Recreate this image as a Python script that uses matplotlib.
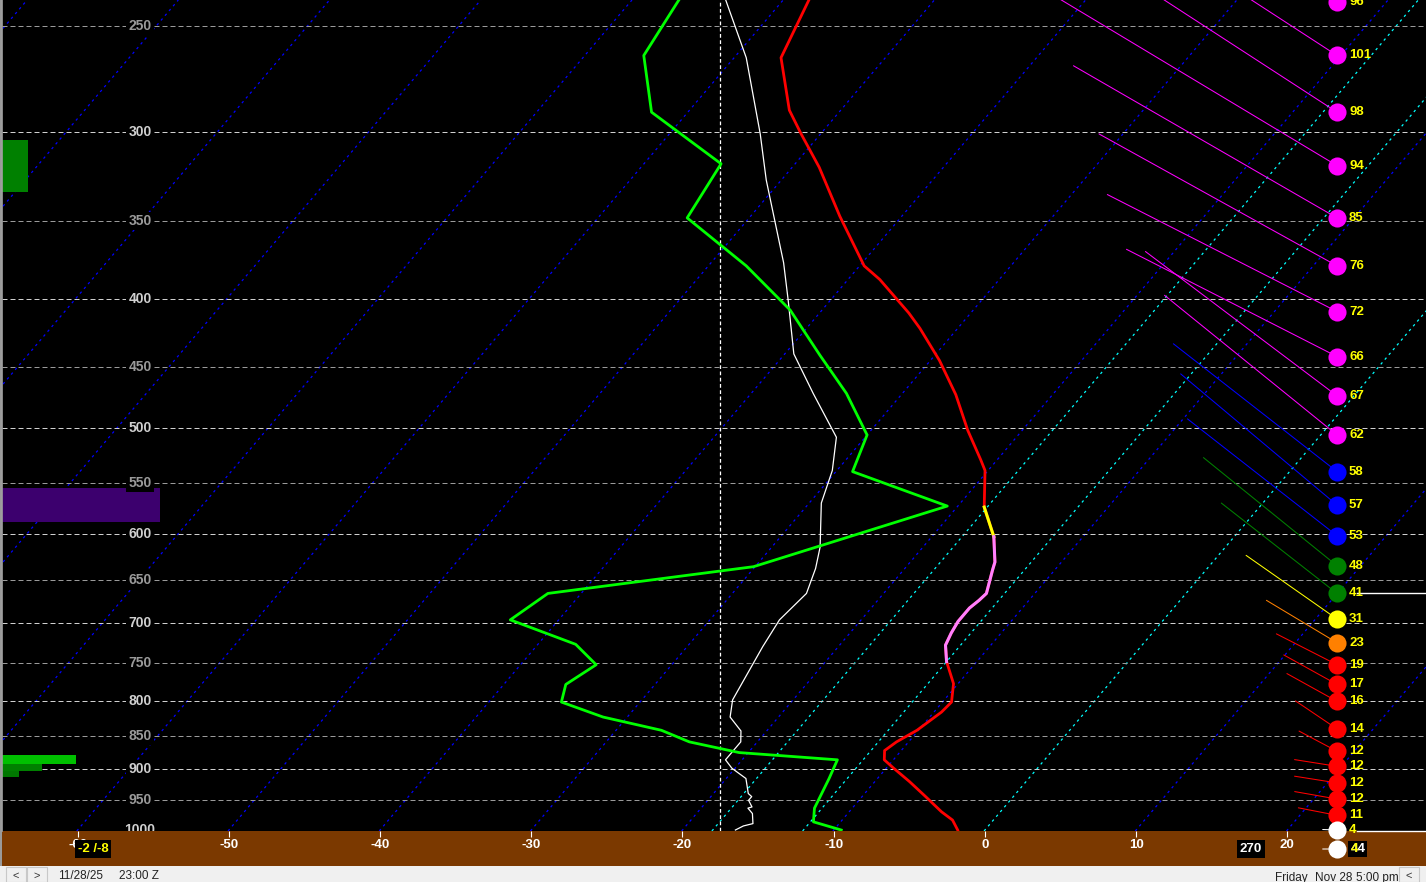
import numpy as np
import matplotlib
matplotlib.use('Agg')
import matplotlib.pyplot as plt
from matplotlib.patches import Rectangle

plt.rcParams['font.family'] = ['Liberation Sans', 'DejaVu Sans']

# temperature profile (hPa, degC)
temp_p = [239, 264, 289, 301, 319, 347, 378, 387, 410, 421, 445, 472, 502, 528, 538, 550, 573, 603,
          630, 639, 665, 673, 682, 698, 712, 727, 748, 777, 802, 816, 842, 859, 872, 886, 899, 920,
          944, 969, 983, 1000]
temp_t = [-58.3, -56.9, -53.4, -51.3, -48.2, -44.1, -39.7, -37.9, -34.1, -32.5, -29.4, -26.4, -23.6,
          -21.1, -20.2, -19.5, -18.2, -15.9, -14.4, -14.1, -13.2, -13.3, -13.5, -13.5, -13.3, -13.0,
          -12.0, -10.3, -9.4, -9.5, -10.1, -10.8, -11.1, -10.6, -9.5, -7.7, -5.8, -3.9, -2.7, -1.8]
yellow_seg = (16, 17)   # index range drawn yellow
pink_seg = (17, 26)     # index range drawn pink

# dewpoint (green)
dew_p = [239, 263, 290, 317, 348, 378, 408, 441, 471, 506, 539, 572, 635, 665, 696, 726, 752, 778,
         802, 823, 842, 859, 875, 886, 915, 963, 986, 1000]
dew_t = [-66.9, -66.1, -62.4, -54.9, -54.1, -47.5, -42.1, -37.6, -33.7, -30.0, -28.9, -20.7, -30.1,
         -42.2, -43.2, -37.5, -35.0, -35.9, -35.2, -31.6, -27.0, -24.5, -20.6, -13.7, -13.2, -12.5,
         -11.8, -9.5]

# white profile
wb_p = [239, 264, 301, 326, 376, 401, 440, 471, 508, 538, 569, 614, 637, 665, 696, 729, 799, 823,
        843, 859, 886, 899, 915, 939, 944, 950, 961, 963, 972, 989, 993, 1000]
wb_t = [-63.8, -59.2, -54.0, -51.0, -45.2, -42.8, -39.4, -35.9, -31.9, -30.3, -29.2, -26.8, -25.9,
        -25.1, -25.4, -25.0, -24.0, -23.2, -21.7, -21.1, -21.1, -20.2, -18.7, -17.7, -17.3, -17.3,
        -16.7, -16.9, -16.3, -15.7, -16.2, -16.5]

# winds
wind_p = [240, 263, 290, 318, 348, 378, 409, 442, 473, 506, 539, 571, 602, 634, 665, 695, 724, 752,
          778, 801, 840, 873, 896, 922, 948, 975, 1000]
wind_spd = [96, 101, 98, 94, 85, 76, 72, 66, 67, 62, 58, 57, 53, 48, 41, 31, 23, 19, 17, 16, 14, 12,
            12, 12, 12, 11, 4]
wind_dir = [300, 303, 303, 301, 300, 299, 297, 297, 307, 309, 308, 310, 308, 309, 308, 305, 301, 297,
            299, 299, 304, 298, 279, 279, 280, 281, 272]
sfc_dir = 270
sfc_gust = 44

# layer bars on the left (top hPa, bottom hPa, length degC, colour)
bar_top = [304, 554, 879, 892, 903]
bar_bot = [333, 588, 892, 903, 913]
bar_len = [1.7, 10.45, 4.9, 2.65, 1.1]
bar_col = ['#008000', '#3c006e', '#00c000', '#008000', '#007800']

iso_cyan = [-18, -12, 0]
p_levels = list(range(250, 1001, 50))

SKEW = 32.6
X0, X1 = -65.0, 29.17
P_BOT, P_TOP = 1001.7, 239.0


def skew_x(t, p):
    return np.asarray(t) + SKEW * np.log(1000.0 / np.asarray(p, dtype=float))


def wind_color(s):
    if s >= 60:
        return '#ff00ff'
    if s >= 50:
        return '#0000ff'
    if s >= 40:
        return '#008000'
    if s >= 30:
        return '#ffff00'
    if s >= 20:
        return '#ff8000'
    if s >= 5:
        return '#ff0000'
    return 'white'


W, H = 1426, 882
fig = plt.figure(figsize=(W / 100, H / 100), dpi=100, facecolor='#9a9a9a')
ax = fig.add_axes([2 / W, 51 / H, 1424 / W, 831 / H])
ax.set_facecolor('black')
ax.set_yscale('log')
ax.set_ylim(P_BOT, P_TOP)
ax.set_xlim(X0, X1)
ax.yaxis.set_visible(False)
for s in ['top', 'right', 'bottom']:
    ax.spines[s].set_visible(False)
ax.spines['left'].set_color('#a0a0a0')
ax.spines['left'].set_linewidth(1.2)

# brown strip and status bar
fig.add_artist(Rectangle((2 / W, 16 / H), 1424 / W, 35 / H, transform=fig.transFigure,
                         facecolor='#7b3900', edgecolor='none', zorder=-1))
fig.add_artist(Rectangle((0, 0), 1, 16 / H, transform=fig.transFigure,
                         facecolor='#f0f0f0', edgecolor='none', zorder=-1))

# isotherms
pp = np.array([P_BOT, P_TOP])
for t in range(-160, 40, 10):
    if t == 0:
        continue
    ax.plot(skew_x([t, t], pp), pp, color='#0000ff', lw=0.9, dashes=(2, 3), zorder=1)
for t in iso_cyan:
    ax.plot(skew_x([t, t], pp), pp, color='#00ffff', lw=0.9, dashes=(2, 3), zorder=1)

# pressure lines and labels
ytr = ax.get_yaxis_transform()
for p in p_levels:
    c = '#d0d0d0' if p % 100 == 0 else '#9a9a9a'
    if p < 1000:
        ax.axhline(p, color=c, lw=0.72, dashes=(5, 3), zorder=1.2)
    ax.text(0.0969, p, str(p), transform=ytr, color=c, fontsize=10, fontweight='bold',
            ha='center', va='center', zorder=2, clip_on=True,
            bbox=dict(boxstyle='square,pad=0.15', facecolor='black', edgecolor='none'))

ax.axvline(-17.5, color='white', lw=0.9, dashes=(3, 2), zorder=1.5)

# left bars
for top, bot, ln, c in zip(bar_top, bar_bot, bar_len, bar_col):
    ax.fill_betweenx([top, bot], X0, X0 + ln, color=c, lw=0, zorder=1.8)

# profiles
ax.plot(skew_x(wb_t, wb_p), wb_p, color='white', lw=0.9, zorder=3)
ax.plot(skew_x(dew_t, dew_p), dew_p, color='#00ff00', lw=2.0, zorder=3)
tx = skew_x(temp_t, temp_p)
ax.plot(tx, temp_p, color='#ff0000', lw=2.0, zorder=3)
a, b = yellow_seg
ax.plot(tx[a:b + 1], temp_p[a:b + 1], color='#ffff00', lw=2.2, zorder=3.1)
a, b = pink_seg
ax.plot(tx[a:b + 1], temp_p[a:b + 1], color='#ff80ff', lw=2.2, zorder=3.1)

# winds
cx = (1337 - 2) / 1424
lx = (1349 - 2) / 1424
PX_KT = 3.58
for p, s, d in zip(wind_p, wind_spd, wind_dir):
    c = wind_color(s)
    r = np.radians(d)
    ax.annotate('', xy=(cx, p), xycoords=ytr,
                xytext=(s * PX_KT * np.sin(r), s * PX_KT * np.cos(r)), textcoords='offset pixels',
                arrowprops=dict(arrowstyle='-', color=c, lw=0.75, shrinkA=0, shrinkB=0), zorder=4)
    ax.scatter([cx], [p], s=170, color=c, transform=ytr, zorder=5, clip_on=False, linewidths=0)
    ax.text(lx, p, str(s), transform=ytr, color='#ffff00', fontsize=9.5, fontweight='bold',
            va='center', ha='left', zorder=6)

ax.axhline(665, xmin=(1357 - 2) / 1424, xmax=1, color='white', lw=1, zorder=5.5)
ax.axhline(1001, xmin=(1357 - 2) / 1424, xmax=1, color='white', lw=1, zorder=5.5, clip_on=False)

# surface wind in the strip
p_sfc = 1000 * np.exp(19 / 580)
r = np.radians(sfc_dir)
ax.annotate('', xy=(cx, p_sfc), xycoords=ytr,
            xytext=(wind_spd[-1] * PX_KT * np.sin(r), wind_spd[-1] * PX_KT * np.cos(r)),
            textcoords='offset pixels', annotation_clip=False,
            arrowprops=dict(arrowstyle='-', color='white', lw=0.75, shrinkA=0, shrinkB=0), zorder=4)
ax.scatter([cx], [p_sfc], s=170, color='white', transform=ytr, zorder=5, clip_on=False, linewidths=0)
ax.text(lx + 0.001, p_sfc, str(sfc_gust), transform=ytr, color='white', fontsize=9.5,
        fontweight='bold', va='center', ha='left', zorder=6,
        bbox=dict(boxstyle='square,pad=0.15', facecolor='black', edgecolor='none'))
ax.text(lx + 0.001, p_sfc, str(sfc_gust)[0], transform=ytr, color='#ffff00', fontsize=9.5,
        fontweight='bold', va='center', ha='left', zorder=7)
ax.text((1251 - 2) / 1424, p_sfc, str(sfc_dir), transform=ytr, color='white', fontsize=9.5,
        fontweight='bold', va='center', ha='center', zorder=6,
        bbox=dict(boxstyle='square,pad=0.2', facecolor='black', edgecolor='none'))
ax.text((93 - 2) / 1424, p_sfc, '%d /%d' % (round(temp_t[-1]), -8), transform=ytr,
        color='#ffff00', fontsize=9.5, fontweight='bold', va='center', ha='center', zorder=6,
        bbox=dict(boxstyle='square,pad=0.2', facecolor='black', edgecolor='none'))

# temperature axis
ax.set_xticks(range(-60, 30, 10))
ax.set_xticklabels([str(t) for t in range(-60, 30, 10)])
ax.tick_params(axis='x', colors='white', length=4.3, width=0.8, direction='out', pad=1.5,
               labelsize=9.5)
for lbl in ax.get_xticklabels():
    lbl.set_fontweight('bold')

# status bar
for x0, txt in [(6, '<'), (27, '>')]:
    fig.add_artist(Rectangle((x0 / W, 0), 20 / W, 15 / H, transform=fig.transFigure,
                             facecolor='#f0f0f0', edgecolor='#c8c8c8', lw=0.8))
    fig.text((x0 + 10) / W, 6 / H, txt, fontsize=8, color='#333333', ha='center', va='center')
fig.add_artist(Rectangle((1399 / W, 0), 20 / W, 15 / H, transform=fig.transFigure,
                         facecolor='#f0f0f0', edgecolor='#c8c8c8', lw=0.8))
fig.text(1409 / W, 6 / H, '<', fontsize=8, color='#333333', ha='center', va='center')
fig.text(58 / W, 6 / H, '11/28/25', fontsize=8.5, color='#222222', va='center')
fig.text(119 / W, 6 / H, '23:00 Z', fontsize=8.5, color='#222222', va='center')
fig.text(1275 / W, 4 / H, 'Friday', fontsize=8.5, color='#222222', va='center')
fig.text(1315 / W, 4 / H, 'Nov 28', fontsize=8.5, color='#222222', va='center')
fig.text(1356 / W, 4 / H, '5:00 pm', fontsize=8.5, color='#222222', va='center')

fig.savefig('out.png', dpi=100, facecolor=fig.get_facecolor())
